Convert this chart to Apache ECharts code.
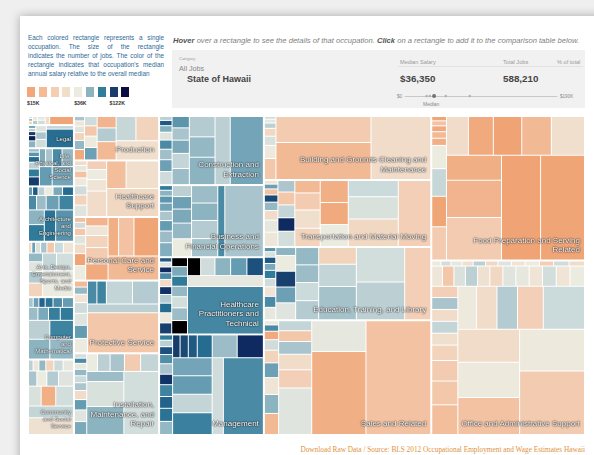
<!DOCTYPE html>
<html>
<head>
<meta charset="utf-8">
<script src="https://cdn.jsdelivr.net/npm/echarts@6/dist/echarts.min.js"></script>
<style>
  body { margin: 0; width: 594px; height: 455px; overflow: hidden; background: #efefef; font-family: "Liberation Sans", Arial, sans-serif; }
  #card { position: absolute; left: 20px; top: 16px; width: 600px; height: 460px; background: #fff; box-shadow: 0 0 9px rgba(0,0,0,0.3); }
  .abs { position: absolute; white-space: nowrap; }
  #intro { position: absolute; left: 28px; top: 33px; width: 136px; color: #2e6a96; font-size: 6.4px; }
  #intro div { height: 9px; line-height: 9px; text-align: justify; text-align-last: justify; white-space: nowrap; overflow: hidden; }
  #intro div.last { text-align-last: left; }
  .sw { position: absolute; top: 87px; width: 8px; height: 10px; }
  .lg { position: absolute; top: 100px; font-size: 5.2px; font-weight: bold; color: #333; }
  #hint { left: 173px; top: 35.5px; font-size: 7.6px; font-style: italic; color: #808080; }
  #hint b { color: #555; }
  #box { position: absolute; left: 172px; top: 50px; width: 413px; height: 58px; background: #f1f1f1; }
  .small { font-size: 5.6px; color: #999; }
  .big { font-size: 9.8px; font-weight: bold; color: #444; }
  .tiny { font-size: 4.6px; color: #888; }
  #chart { position: absolute; left: 0; top: 0; width: 594px; height: 455px; z-index: 1; }
  #labels { position: absolute; left: 0; top: 0; z-index: 2; }
  .glabel { position: absolute; display: flex; align-items: flex-end; justify-content: flex-end; box-sizing: border-box;
            padding: 0 4px 5px 0; color: #fff; text-align: right; white-space: pre; font-size: 8px; line-height: 9.5px;
            text-shadow: 0 0 2px rgba(0,0,0,0.95), 0 0 1px rgba(0,0,0,0.9); }
  .glabel.narrow { font-size: 6px; line-height: 7px; padding: 0 2px 4px 0; }
  #foot { right: 9px; top: 445px; font-family: "Liberation Serif", serif; font-size: 7.3px; color: #e0923c; }
</style>
</head>
<body>
<div id="card"></div>
<div id="intro">
  <div>Each colored rectangle represents a single</div>
  <div>occupation. The size of the rectangle</div>
  <div>indicates the number of jobs. The color of the</div>
  <div>rectangle indicates that occupation's median</div>
  <div class="last">annual salary relative to the overall median</div>
</div>
<div id="legend"></div>
<div id="hint" class="abs"><b>Hover</b> over a rectangle to see the details of that occupation. <b>Click</b> on a rectangle to add it to the comparison table below.</div>
<div id="box"></div>
<div class="abs" style="left:179px;top:56px;font-size:4px;color:#999;font-style:italic">Category</div>
<div class="abs" style="left:179px;top:64px;font-size:7.2px;color:#888">All Jobs</div>
<div class="abs" style="left:187px;top:74px;font-size:9px;font-weight:bold;color:#444">State of Hawaii</div>
<div class="abs small" style="left:400px;top:59px">Median Salary</div>
<div class="abs small" style="left:503px;top:59px">Total Jobs</div>
<div class="abs small" style="left:557px;top:59px">% of total</div>
<div class="abs" style="left:398px;top:66px;width:185px;height:1px;background:#e2e2e2"></div>
<div class="abs big" style="left:400px;top:73px">$36,350</div>
<div class="abs big" style="left:503px;top:73px">588,210</div>
<div class="abs tiny" style="left:397px;top:93.5px">$0</div>
<div class="abs tiny" style="left:560px;top:93.5px">$190K</div>
<div class="abs tiny" style="left:423px;top:100.5px;font-size:5px">Median</div>
<div id="chart"></div>
<div id="labels"></div>
<div id="foot" class="abs">Download Raw Data / Source: BLS 2012 Occupational Employment and Wage Estimates Hawaii</div>
<script>
// legend of the salary scale
const legendColors = ['#f3a679', '#f5b993', '#f5cdb0', '#f2ddc8', '#ecebe0', '#8db3bf', '#2f7f9c', '#1a3d6b', '#0c0c45'];
const legendTicks = [['$15K', 0], ['$36K', 4], ['$122K', 7]];

// all-jobs wage markers on the small scale ($K) and its range
const wageMarks = [27, 31, 36.35, 51, 81];
const wageMedian = 36.35;
const wageMax = 190;

// major groups, in jobs
const groupNames = [
  'Farming, Fishing, and Forestry', 'Legal', 'Life, Physical, and Social Science', 'Architecture and Engineering',
  'Arts, Design, Entertainment, Sports, and Media', 'Computer and Mathematical', 'Community and Social Service',
  'Production', 'Healthcare Support', 'Personal Care and Service', 'Protective Service',
  'Installation, Maintenance, and Repair', 'Construction and Extraction', 'Business and Financial Operations',
  'Healthcare Practitioners and Technical', 'Management', 'Building and Grounds Cleaning and Maintenance',
  'Transportation and Material Moving', 'Education, Training, and Library', 'Sales and Related',
  'Food Preparation and Serving Related', 'Office and Administrative Support'
];
const groupLabels = [
  '', 'Legal', 'Life,\nPhysical, and\nSocial\nScience', 'Architecture\nand\nEngineering',
  'Arts, Design,\nEntertainment,\nSports, and\nMedia', 'Computer\nand\nMathematical', 'Community\nand Social\nService',
  'Production', 'Healthcare\nSupport', 'Personal Care and\nService', 'Protective Service',
  'Installation,\nMaintenance, and\nRepair', 'Construction and\nExtraction', 'Business and\nFinancial Operations',
  'Healthcare\nPractitioners and\nTechnical', 'Management', 'Building and Grounds Cleaning and\nMaintenance',
  'Transportation and Material Moving', 'Education, Training, and Library', 'Sales and Related',
  'Food Preparation and Serving\nRelated', 'Office and Administrative Support'
];
const groupJobs = [1380, 3520, 5810, 8420, 8430, 9490, 11480, 12520, 15940, 17920, 20490,
  23030, 23970, 25010, 26780, 34890, 35480, 37140, 40530, 63610, 73560, 88810];

// occupations per group: [jobs, median salary in $K]
const farmingCells = [[700,18],[130,30],[120,45],[100,38],[80,52],[70,33],[50,28],[40,60],[30,42]];
const legalCells = [[1730,98],[330,48],[300,45],[270,55],[230,40],[170,62],[130,160],[100,130],[80,50],[70,70]];
const lifeCells = [[1670,68],[1000,72],[830,60],[700,80],[500,55],[450,65],[400,130],[350,90],[300,50],[250,100],[200,75],[150,58]];
const archCells = [[2400,76],[1530,95],[1130,90],[1000,62],[900,85],[800,70],[600,58],[500,80],[400,100],[350,66],[300,36],[250,50],[200,110],[150,72]];
const artsCells = [[1600,36],[1330,38],[1100,44],[900,48],[700,28],[600,52],[500,40],[450,60],[400,33],[350,46],[300,25],[250,55],[200,42],[150,70],[130,30]];
const computerCells = [[1530,60],[1470,85],[1380,62],[1320,50],[560,90],[500,88],[450,66],[400,58],[350,72],[300,80],[250,95],[200,105],[180,70],[150,55]];
const communityCells = [[2970,32],[2100,48],[1400,44],[1150,20],[1000,42],[900,40],[700,52],[600,36],[500,55],[450,38],[400,46],[350,28],[300,60],[250,34],[200,50]];
const productionCells = [[3130,31],[2100,28],[1830,47],[1330,22],[1000,52],[830,21],[600,70],[550,35],[500,25],[450,45],[400,19],[350,60],[300,28],[250,40],[200,33],[170,55]];
const hcSupportCells = [[5130,29],[3170,31],[1900,23],[1770,30],[800,33],[700,36],[600,27],[500,40],[450,28],[400,45],[350,35],[300,24],[250,38],[200,30]];
const personalCells = [[4500,22],[3520,18],[2200,24],[1500,20],[1350,26],[1350,19],[1000,28],[800,33],[700,21],[600,36],[500,17],[400,30],[350,40],[300,25],[250,45],[200,23]];
const protectiveCells = [[9200,25],[2000,50],[1930,48],[1930,52],[700,80],[700,85],[600,36],[550,72],[500,40],[450,45],[350,33],[300,60],[250,22]];
const installCells = [[6900,44],[3270,62],[2930,42],[1170,58],[1000,48],[900,26],[800,55],[700,50],[600,36],[500,66],[450,40],[400,72],[350,30],[300,54],[270,46],[250,60],[230,38],[200,80],[170,44]];
const constructionCells = [[6900,68],[3170,50],[2150,62],[1600,52],[1600,60],[850,58],[800,48],[700,66],[650,55],[600,75],[500,45],[450,70],[400,57],[350,80],[300,40],[250,64],[200,110],[150,50]];
const businessCells = [[9170,55],[1670,80],[1590,52],[1590,56],[1530,58],[1530,62],[1150,36],[1000,60],[900,66],[800,70],[700,50],[600,64],[500,58],[450,72],[400,54],[350,68],[300,75],[250,62],[200,90]];
const hcPractCells = [[10260,82],[2330,38],[840,115],[830,72],[800,62],[730,45],[670,200],[600,200],[570,58],[500,44],[470,60],[450,90],[430,66],[400,200],[380,125],[350,35],[330,100],[300,52],[270,140],[250,30],[230,80],[200,150],[170,40],[150,110]];
const managementCells = [[9000,80],[2530,86],[2530,45],[2150,72],[2150,48],[2080,68],[1750,150],[1670,58],[1000,100],[600,110],[550,120],[500,95],[500,60],[500,130],[450,85],[450,105],[400,55],[400,140],[350,78],[300,115],[250,50],[200,90]];
const buildingCells = [[12390,30],[11590,22],[8150,26],[800,25],[500,35],[350,42],[300,29],[200,50],[150,38],[100,45]];
const transportCells = [[6600,27],[4230,29],[3430,42],[2500,46],[1900,20],[1900,19],[1900,36],[1430,31],[1430,28],[1330,26],[970,22],[800,44],[700,150],[670,25],[670,48],[600,34],[600,54],[500,38],[400,30],[350,60],[300,120],[250,24],[200,70],[150,33]];
const educationCells = [[6000,27],[5800,50],[5330,44],[4000,56],[2670,48],[2000,28],[1400,52],[1330,46],[1300,58],[1270,60],[1070,40],[1000,36],[1000,125],[1000,70],[500,62],[450,38],[400,80],[350,33],[300,90],[300,45],[250,66],[230,110],[200,42],[150,75]];
const salesCells = [[24530,24],[14960,20],[5580,38],[5130,40],[2000,27],[1700,30],[1400,55],[1200,25],[1100,48],[1000,22],[900,62],[800,33],[700,70],[600,28],[500,45],[400,19],[300,80],[200,36]];
const foodCells = [[14390,18],[12790,17],[7300,26],[6440,21],[4300,20],[4010,31],[3580,22],[3440,17],[3010,19],[2660,30],[1530,26],[1400,18],[1270,47],[1070,36],[330,20],[300,22],[270,19],[230,24],[200,18]];
const officeCells = [[13290,26],[8740,35],[7390,24],[7000,35],[6590,30],[5730,46],[3580,27],[2860,30],[2860,52],[2580,35],[2500,23],[2000,25],[1730,26],[1300,28],[1000,55],[1000,30],[1000,48],[1000,31],[950,36],[950,27],[900,44],[900,33],[870,38],[870,33],[850,29],[850,40],[800,50],[800,32],[750,25],[750,42],[700,34],[250,45],[250,30],[230,36],[230,27],[220,40],[220,33],[200,50],[200,29],[180,38],[180,31],[160,44],[150,35]];

const cellSets = [farmingCells, legalCells, lifeCells, archCells, artsCells, computerCells, communityCells,
  productionCells, hcSupportCells, personalCells, protectiveCells, installCells, constructionCells,
  businessCells, hcPractCells, managementCells, buildingCells, transportCells, educationCells,
  salesCells, foodCells, officeCells];

// salary ($K) -> colour ramp
const payStops = [15, 18, 21, 25, 30, 36, 45, 55, 65, 80, 92, 110, 125, 150, 175, 200];
const payColors = ['#f0a070', '#f0a576', '#f2b48e', '#f3c7aa', '#f1dcc9', '#ecebe0', '#cfdcdb', '#a9c4cc',
  '#7fabbb', '#4a8aa5', '#2c7898', '#1f5a85', '#17406e', '#0e2a60', '#0c0c45', '#000000'];

function hex(c) { return [1, 3, 5].map(i => parseInt(c.slice(i, i + 2), 16)); }
function payColor(k) {
  if (k <= payStops[0]) return payColors[0];
  for (let i = 1; i < payStops.length; i++) {
    if (k <= payStops[i]) {
      const t = (k - payStops[i - 1]) / (payStops[i] - payStops[i - 1]);
      const a = hex(payColors[i - 1]), b = hex(payColors[i]);
      return 'rgb(' + a.map((v, j) => Math.round(v + (b[j] - v) * t)).join(',') + ')';
    }
  }
  return payColors[payColors.length - 1];
}

// html legend
const legend = document.getElementById('legend');
legendColors.forEach((c, i) => {
  const d = document.createElement('div');
  d.className = 'sw';
  d.style.left = (27 + i * 11.8) + 'px';
  d.style.background = c;
  legend.appendChild(d);
});
legendTicks.forEach(([t, i]) => {
  const d = document.createElement('div');
  d.className = 'lg';
  d.style.left = (27 + i * 11.8) + 'px';
  d.textContent = t;
  legend.appendChild(d);
});

const mapBox = {left: 29, top: 117, width: 555, height: 317};

const treeData = groupNames.map((name, i) => ({
  name: name,
  value: groupJobs[i],
  children: cellSets[i].map(([jobs, pay], j) => ({
    name: name + ' #' + (j + 1),
    value: jobs,
    itemStyle: {color: payColor(pay)}
  }))
}));

const chart = echarts.init(document.getElementById('chart'));
chart.setOption({
  animation: false,
  grid: {left: 405, top: 95, width: 152, height: 2},
  xAxis: {
    type: 'value', min: 0, max: wageMax,
    axisLine: {show: true, onZero: true, lineStyle: {color: '#c9c9c9', width: 1}},
    axisTick: {show: false}, axisLabel: {show: false}, splitLine: {show: false}
  },
  yAxis: {type: 'value', min: -1, max: 1, show: false},
  series: [
    {
      type: 'treemap',
      left: mapBox.left, top: mapBox.top, width: mapBox.width, height: mapBox.height,
      sort: 'asc',
      squareRatio: 1.618,
      roam: false,
      nodeClick: false,
      silent: true,
      visibleMin: 1,
      breadcrumb: {show: false},
      label: {show: false},
      upperLabel: {show: false},
      itemStyle: {borderWidth: 0, gapWidth: 1, borderColor: '#fff'},
      levels: [
        {itemStyle: {borderWidth: 0, gapWidth: 2, borderColor: '#fff'}},
        {itemStyle: {borderWidth: 0, gapWidth: 1, borderColor: '#fff'}},
        {itemStyle: {borderWidth: 0}}
      ],
      data: treeData
    },
    {
      type: 'scatter',
      silent: true,
      data: wageMarks.map(v => [v, 0]),
      symbolSize: v => (v[0] === wageMedian ? 4 : 2.5),
      itemStyle: {color: p => (p.value[0] === wageMedian ? '#555' : '#a8a8a8')}
    }
  ]
});

// group captions, placed from the treemap's own layout
try {
  const tree = chart.getModel().getSeriesByIndex(0).getData().tree;
  const holder = document.getElementById('labels');
  tree.root.children.forEach(node => {
    const i = groupNames.indexOf(node.name);
    const box = node.getLayout();
    if (i < 0 || !box || !groupLabels[i]) return;
    const div = document.createElement('div');
    div.className = 'glabel' + (box.width < 60 ? ' narrow' : '');
    div.style.left = (mapBox.left + box.x) + 'px';
    div.style.top = (mapBox.top + box.y) + 'px';
    div.style.width = box.width + 'px';
    div.style.height = box.height + 'px';
    const span = document.createElement('span');
    span.textContent = groupLabels[i];
    div.appendChild(span);
    holder.appendChild(div);
  });
} catch (e) {}
</script>
</body>
</html>
